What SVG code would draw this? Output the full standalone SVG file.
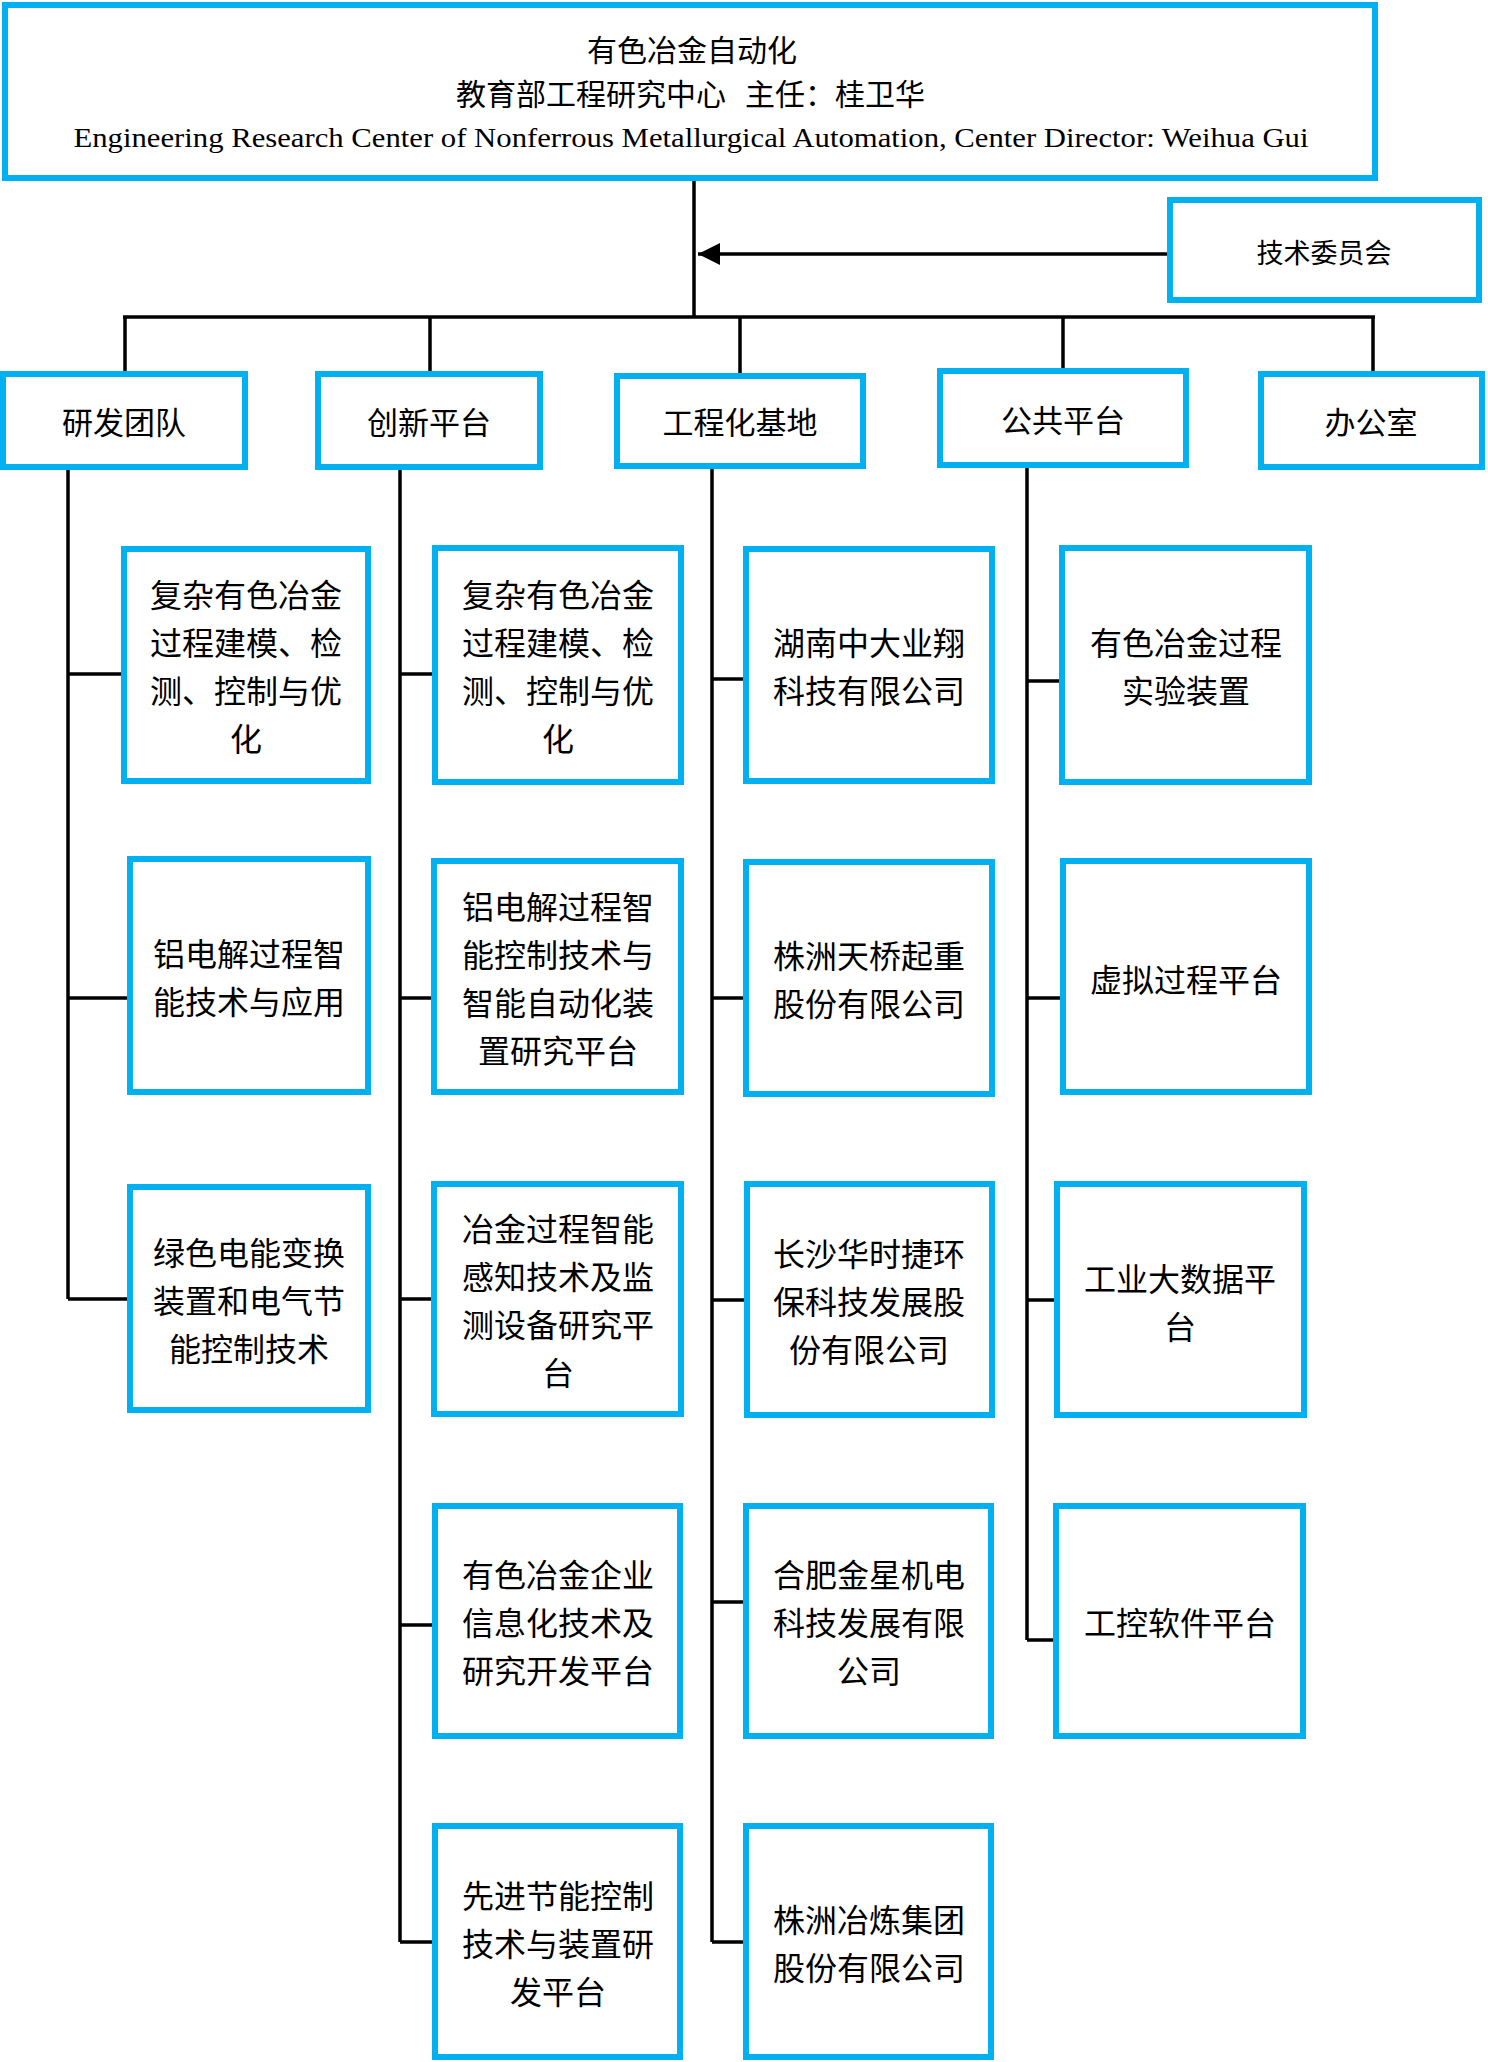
<svg xmlns="http://www.w3.org/2000/svg" width="1488" height="2062" viewBox="0 0 1488 2062">
<style>
.box{fill:#fff;stroke:#00B0F0;stroke-width:6}
.t{font-family:"Noto Sans CJK SC","Noto Sans",sans-serif;font-size:32px;fill:#000;text-anchor:middle;dominant-baseline:central}
.l2{font-size:31px}
.ts{font-size:30px}
.tl{font-family:"Noto Sans CJK SC","Noto Sans",sans-serif;font-size:30px;fill:#000;text-anchor:start;dominant-baseline:central}
.ln{fill:none;stroke:#000;stroke-width:3.5}
.en{font-family:"Liberation Serif","Times New Roman",serif;font-size:28px;fill:#000}
</style>
<defs>
<marker id="arr" markerUnits="userSpaceOnUse" markerWidth="22" markerHeight="22" viewBox="0 0 20 20" refX="20" refY="10" orient="auto">
<path d="M0,0 L20,10 L0,20 Z" fill="#000"/>
</marker>
</defs>
<g id="connectors">
<path class="ln" d="M694,181 V317"/>
<path class="ln" d="M1167,254 H698" stroke-width="4" marker-end="url(#arr)"/>
<path class="ln" d="M123,317 H1375" stroke-width="4.5"/>
<path class="ln" d="M125,317 V371 M430,317 V371 M740,317 V373 M1063,317 V368 M1373,317 V371"/>
<path class="ln" d="M68,470 V1299 M68,674 H124 M68,998 H130 M68,1299 H130"/>
<path class="ln" d="M400,470 V1942 M400,674 H435 M400,998 H434 M400,1299 H434 M400,1625 H435 M400,1942 H435"/>
<path class="ln" d="M712,469 V1942 M712,679 H746 M712,998 H746 M712,1300 H747 M712,1602 H746 M712,1942 H746"/>
<path class="ln" d="M1027,468 V1640 M1027,681 H1062 M1027,998 H1063 M1027,1300 H1057 M1027,1640 H1056"/>
</g>
<g id="title">
<rect class="box" x="5" y="5" width="1370" height="173"/>
<text class="t ts" x="692" y="48">有色冶金自动化</text>
<text class="tl" x="456" y="92">教育部工程研究中心</text>
<text class="tl" x="745" y="92">主任：桂卫华</text>
<text class="en" x="691" y="147" text-anchor="middle" textLength="1235" lengthAdjust="spacingAndGlyphs">Engineering Research Center of Nonferrous Metallurgical Automation, Center Director: Weihua Gui</text>
</g>
<g id="committee">
<rect class="box" x="1170" y="200" width="309" height="100"/>
<text class="t" x="1324" y="251" style="font-size:27px">技术委员会</text>
</g>
<g id="team"><rect class="box" x="3" y="374" width="242" height="93"/><text class="t l2" x="124" y="420">研发团队</text></g>
<g id="innovation"><rect class="box" x="318" y="374" width="222" height="93"/><text class="t l2" x="429" y="420">创新平台</text></g>
<g id="engineering"><rect class="box" x="617" y="376" width="246" height="90"/><text class="t l2" x="740" y="420">工程化基地</text></g>
<g id="public"><rect class="box" x="940" y="371" width="246" height="94"/><text class="t l2" x="1063" y="418">公共平台</text></g>
<g id="office"><rect class="box" x="1261" y="374" width="221" height="93"/><text class="t l2" x="1371" y="420">办公室</text></g>

<g id="c1b1"><rect class="box" x="124" y="549" width="244" height="232"/><text class="t"><tspan x="246" y="593">复杂有色冶金</tspan><tspan x="246" y="641">过程建模、检</tspan><tspan x="246" y="689">测、控制与优</tspan><tspan x="246" y="737">化</tspan></text></g>
<g id="c1b2"><rect class="box" x="130" y="859" width="238" height="233"/><text class="t"><tspan x="249" y="952">铝电解过程智</tspan><tspan x="249" y="1000">能技术与应用</tspan></text></g>
<g id="c1b3"><rect class="box" x="130" y="1187" width="238" height="223"/><text class="t"><tspan x="249" y="1251">绿色电能变换</tspan><tspan x="249" y="1299">装置和电气节</tspan><tspan x="249" y="1347">能控制技术</tspan></text></g>

<g id="c2b1"><rect class="box" x="435" y="548" width="246" height="234"/><text class="t"><tspan x="558" y="593">复杂有色冶金</tspan><tspan x="558" y="641">过程建模、检</tspan><tspan x="558" y="689">测、控制与优</tspan><tspan x="558" y="737">化</tspan></text></g>
<g id="c2b2"><rect class="box" x="434" y="861" width="247" height="231"/><text class="t"><tspan x="558" y="905">铝电解过程智</tspan><tspan x="558" y="953">能控制技术与</tspan><tspan x="558" y="1001">智能自动化装</tspan><tspan x="558" y="1049">置研究平台</tspan></text></g>
<g id="c2b3"><rect class="box" x="434" y="1184" width="247" height="230"/><text class="t"><tspan x="558" y="1227">冶金过程智能</tspan><tspan x="558" y="1275">感知技术及监</tspan><tspan x="558" y="1323">测设备研究平</tspan><tspan x="558" y="1371">台</tspan></text></g>
<g id="c2b4"><rect class="box" x="435" y="1506" width="245" height="230"/><text class="t"><tspan x="558" y="1573">有色冶金企业</tspan><tspan x="558" y="1621">信息化技术及</tspan><tspan x="558" y="1669">研究开发平台</tspan></text></g>
<g id="c2b5"><rect class="box" x="435" y="1826" width="245" height="231"/><text class="t"><tspan x="558" y="1894">先进节能控制</tspan><tspan x="558" y="1942">技术与装置研</tspan><tspan x="558" y="1990">发平台</tspan></text></g>

<g id="c3b1"><rect class="box" x="746" y="549" width="246" height="232"/><text class="t"><tspan x="869" y="641">湖南中大业翔</tspan><tspan x="869" y="689">科技有限公司</tspan></text></g>
<g id="c3b2"><rect class="box" x="746" y="862" width="246" height="232"/><text class="t"><tspan x="869" y="954">株洲天桥起重</tspan><tspan x="869" y="1002">股份有限公司</tspan></text></g>
<g id="c3b3"><rect class="box" x="747" y="1184" width="245" height="231"/><text class="t"><tspan x="869" y="1252">长沙华时捷环</tspan><tspan x="869" y="1300">保科技发展股</tspan><tspan x="869" y="1348">份有限公司</tspan></text></g>
<g id="c3b4"><rect class="box" x="746" y="1506" width="245" height="230"/><text class="t"><tspan x="869" y="1573">合肥金星机电</tspan><tspan x="869" y="1621">科技发展有限</tspan><tspan x="869" y="1669">公司</tspan></text></g>
<g id="c3b5"><rect class="box" x="746" y="1826" width="245" height="231"/><text class="t"><tspan x="869" y="1918">株洲冶炼集团</tspan><tspan x="869" y="1966">股份有限公司</tspan></text></g>

<g id="c4b1"><rect class="box" x="1062" y="548" width="247" height="234"/><text class="t"><tspan x="1186" y="641">有色冶金过程</tspan><tspan x="1186" y="689">实验装置</tspan></text></g>
<g id="c4b2"><rect class="box" x="1063" y="861" width="246" height="231"/><text class="t" x="1186" y="978">虚拟过程平台</text></g>
<g id="c4b3"><rect class="box" x="1057" y="1184" width="247" height="231"/><text class="t"><tspan x="1180" y="1277">工业大数据平</tspan><tspan x="1180" y="1325">台</tspan></text></g>
<g id="c4b4"><rect class="box" x="1056" y="1506" width="247" height="230"/><text class="t" x="1180" y="1621">工控软件平台</text></g>
</svg>
